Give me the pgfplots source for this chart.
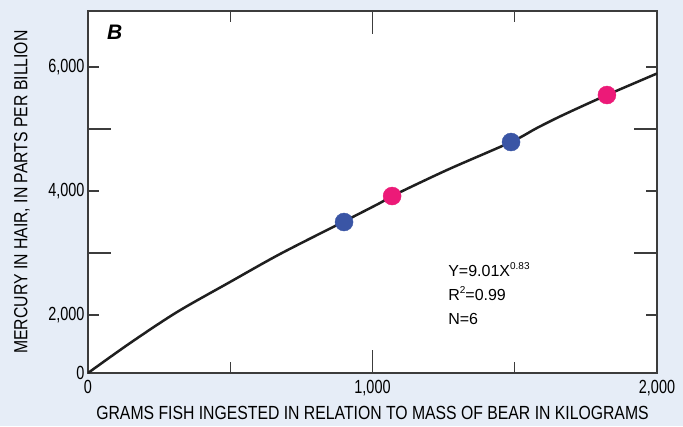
\documentclass[border=0pt]{standalone}
\usepackage{fontspec}
\setmainfont{Liberation Sans}
\newfontfamily\cond[FakeStretch=0.76]{Liberation Sans}
\newfontfamily\condl[FakeStretch=0.83]{Liberation Sans}
\usepackage{pgfplots}
\pgfplotsset{compat=1.18}
\definecolor{bgblue}{HTML}{E6EDF7}
\definecolor{dotblue}{HTML}{3A55A5}
\definecolor{dotpink}{HTML}{EC1A78}
\definecolor{axgray}{HTML}{3C3C3C}

\begin{document}
\begin{tikzpicture}
\fill[bgblue] (-88pt,-53pt) rectangle (595pt,373pt);
\begin{axis}[
    at={(0pt,0pt)}, anchor=south west,
    scale only axis,
    width=569pt, height=362pt,
    xmin=0, xmax=2000,
    ymin=1065, ymax=6903,
    axis background/.style={fill=white},
    axis line style={axgray, line width=1.5pt},
    tick align=inside,
    tick style={axgray, line width=1.2pt},
    major tick length=11pt, minor tick length=11pt,
    xtick={0,2000}, xticklabels={0,{2,000}},
    minor xtick={500,1500},
    extra x ticks={1000}, extra x tick labels={1{,}000},
    extra x tick style={major tick length=23pt},
    ytick={1065,2000,4000,6000}, yticklabels={0,{2,000},{4,000},{6,000}},
    extra y ticks={3000,5000}, extra y tick labels={},
    extra y tick style={major tick length=23pt},
    tick label style={font=\cond\fontsize{19}{19}\selectfont, text=black},
    xticklabel style={yshift=-4pt},
    xlabel={GRAMS FISH INGESTED IN RELATION TO MASS OF BEAR IN KILOGRAMS},
    ylabel={MERCURY IN HAIR, IN PARTS PER BILLION},
    label style={font=\condl\fontsize{19}{19}\selectfont},
    xlabel style={at={(axis description cs:0.5,-0.110)}, anchor=center},
    ylabel style={at={(axis description cs:-0.116,0.5)}, anchor=center},
]

% fitted curve
\addplot[smooth, tension=0.5, line width=2.5pt, black!88] coordinates {
    (0,1065) (148,1548) (313,2048) (499,2532) (675,2984) (896,3500)
    (1026,3806) (1069,3919) (1262,4339) (1487,4790) (1578,5016)
    (1670,5226) (1824,5548) (2000,5895)
};

% observations
\addplot[only marks, mark=*, mark size=9pt, color=dotblue] coordinates {
    (900,3500) (1487,4790)
};
\addplot[only marks, mark=*, mark size=9pt, color=dotpink] coordinates {
    (1069,3919) (1824,5548)
};

\node[anchor=center, font=\bfseries\itshape\fontsize{21}{21}\selectfont]
    at (axis description cs:0.047,0.942) {B};
\node[anchor=north west, align=left, font=\fontsize{16}{24}\selectfont]
    at (axis description cs:0.627,0.315)
    {Y=9.01X\raisebox{0.45em}{\fontsize{10}{10}\selectfont 0.83}\\
     R\raisebox{0.45em}{\fontsize{10}{10}\selectfont 2}=0.99\\
     N=6};
\end{axis}
\end{tikzpicture}
\end{document}
